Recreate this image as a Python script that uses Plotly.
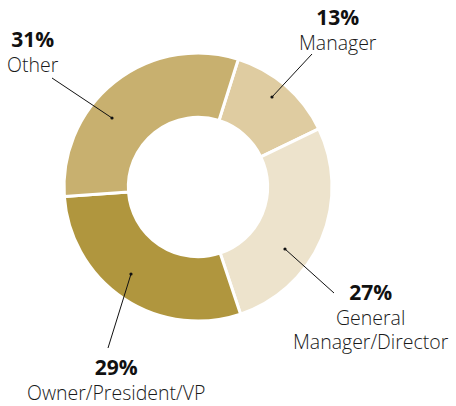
import plotly.graph_objects as go

# ---- data ----
categories = ["Manager", "General Manager/Director", "Owner/President/VP", "Other"]
shares = [13, 27, 29, 31]
name_lines = [["Manager"], ["General", "Manager/Director"], ["Owner/President/VP"], ["Other"]]
slice_colors = ["#dfcca1", "#ede3cc", "#b0963e", "#c8b06f"]

# ---- layout constants (pixels) ----
W, H = 456, 406
cx, cy, R = 198, 187, 134
label_top = [(337.5, 1), (371, 276), (116, 351), (33, 23)]       # top-centre of label block
leader_from = [(312, 54), (334, 293), (108, 348), (52, 78)]
leader_to = [(272, 97), (285, 249), (131, 274), (112, 118)]

fig = go.Figure()
fig.add_trace(go.Pie(
    labels=categories,
    values=shares,
    hole=0.52,
    sort=False,
    direction="clockwise",
    rotation=17.5,
    textinfo="none",
    hoverinfo="label+percent",
    marker=dict(colors=slice_colors, line=dict(color="white", width=3)),
    domain=dict(x=[(cx - R) / W, (cx + R) / W], y=[(H - cy - R) / H, (H - cy + R) / H]),
    showlegend=False,
))

FONT = "Open Sans"
annotations = []
shapes = []
for pct, names, (lx, ly), (x0, y0), (x1, y1) in zip(shares, name_lines, label_top,
                                                    leader_from, leader_to):
    body = "<br>".join(f"<span style='font-size:19.5px'>{n}</span>" for n in names)
    annotations.append(dict(
        x=lx, y=ly, xref="x", yref="y", xanchor="center", yanchor="top",
        text=f"<span style='font-size:21px;color:#111111'><b>{pct}%</b></span><br>{body}",
        showarrow=False, align="center",
        font=dict(family=FONT, size=19, color="#1a1a1a", weight=300),
    ))
    shapes.append(dict(type="line", xref="x", yref="y", x0=x0, y0=y0, x1=x1, y1=y1,
                       line=dict(color="#111111", width=1)))
    shapes.append(dict(type="circle", xref="x", yref="y", x0=x1 - 1.6, y0=y1 - 1.6,
                       x1=x1 + 1.6, y1=y1 + 1.6, fillcolor="#111111",
                       line=dict(color="#111111", width=0)))

fig.update_layout(
    width=W, height=H,
    margin=dict(l=0, r=0, t=0, b=0),
    paper_bgcolor="white", plot_bgcolor="rgba(0,0,0,0)",
    xaxis=dict(range=[0, W], visible=False, fixedrange=True),
    yaxis=dict(range=[H, 0], visible=False, fixedrange=True),
    annotations=annotations,
    shapes=shapes,
)

fig.write_html("out.html", config={"displayModeBar": False},
               post_script="document.body.style.margin='0';document.body.style.overflow='hidden';")
